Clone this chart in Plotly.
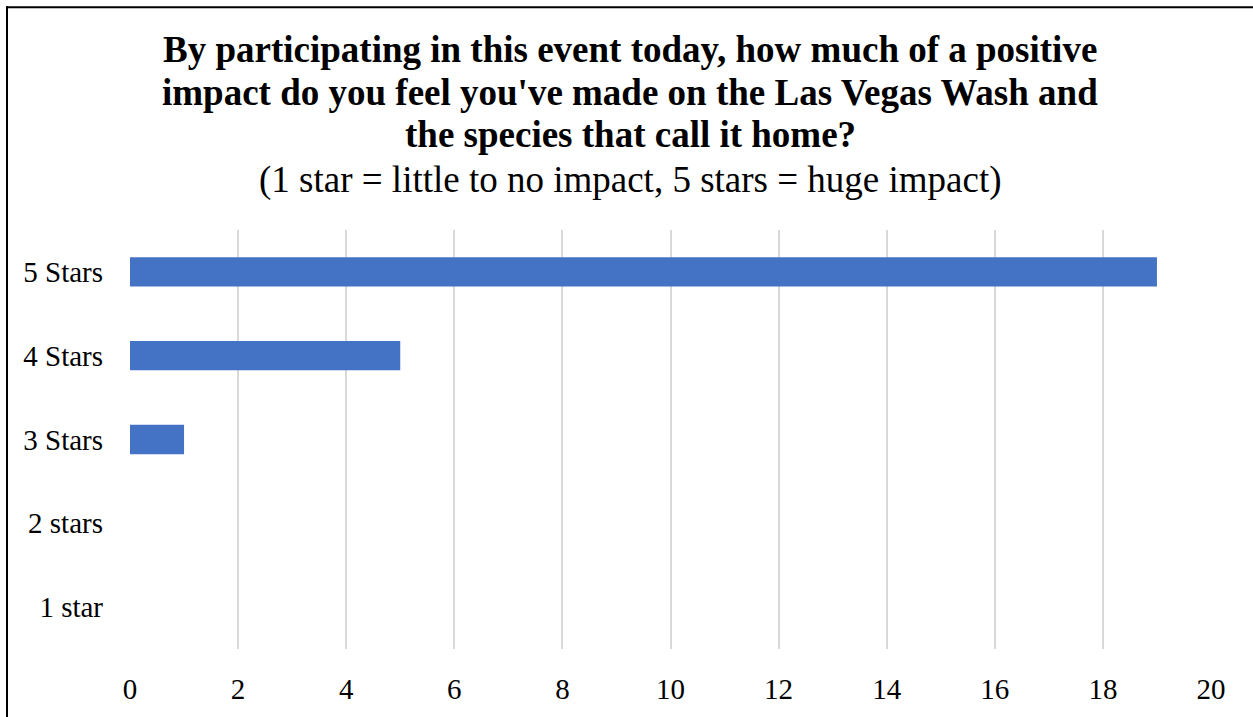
import plotly.graph_objects as go

categories = ["1 star", "2 stars", "3 Stars", "4 Stars", "5 Stars"]
counts = [0, 0, 1, 5, 19]
x_ticks = [0, 2, 4, 6, 8, 10, 12, 14, 16, 18, 20]

title_lines = [
    "By participating in this event today, how much of a positive",
    "impact do you feel you've made on the Las Vegas Wash and",
    "the species that call it home?",
]
subtitle = "(1 star = little to no impact, 5 stars = huge impact)"

FONT = "Times New Roman, Liberation Serif, serif"

fig = go.Figure(
    go.Bar(
        x=counts,
        y=categories,
        orientation="h",
        width=0.35,
        marker=dict(color="#4472C4", line=dict(width=0)),
    )
)

L, R, T, B = 130, 42, 230, 64
W, H = 1253, 717
plot_h = H - T - B

def paper_y(py):
    return (H - B - py) / plot_h

def paper_x(px):
    return (px - L) / (W - L - R)

annotations = []
for text, py in zip(title_lines, [48, 91, 134]):
    annotations.append(dict(
        text=f"<b>{text}</b>", x=paper_x(630), y=paper_y(py), xref="paper", yref="paper",
        xanchor="center", yanchor="middle", showarrow=False,
        font=dict(family=FONT, size=37, color="black"),
    ))
annotations.append(dict(
    text=subtitle, x=paper_x(630), y=paper_y(180), xref="paper", yref="paper",
    xanchor="center", yanchor="middle", showarrow=False,
    font=dict(family=FONT, size=37, color="black"),
))

fig.update_layout(
    width=W,
    height=H,
    margin=dict(l=L, r=R, t=T, b=B),
    plot_bgcolor="white",
    paper_bgcolor="white",
    showlegend=False,
    annotations=annotations,
    font=dict(family=FONT, size=24, color="black"),
    xaxis=dict(
        range=[0, 20],
        tickvals=x_ticks,
        ticktext=[str(v) for v in x_ticks],
        showgrid=True,
        gridcolor="#D9D9D9",
        gridwidth=2,
        zeroline=False,
        showline=False,
        ticks="",
        ticklabelstandoff=20,
        tickfont=dict(family=FONT, size=29, color="black"),
        fixedrange=True,
    ),
    yaxis=dict(
        categoryorder="array",
        categoryarray=categories,
        showgrid=False,
        zeroline=False,
        showline=False,
        ticks="",
        ticklabelstandoff=26,
        tickfont=dict(family=FONT, size=29, color="black"),
        fixedrange=True,
    ),
    shapes=[
        dict(type="line", xref="paper", yref="paper",
             x0=paper_x(7), x1=paper_x(7), y0=paper_y(4), y1=paper_y(H + 10),
             line=dict(color="black", width=2)),
        dict(type="line", xref="paper", yref="paper",
             x0=paper_x(6), x1=paper_x(W + 10), y0=paper_y(5), y1=paper_y(5),
             line=dict(color="black", width=2)),
    ],
)

fig.write_html("out.html")
